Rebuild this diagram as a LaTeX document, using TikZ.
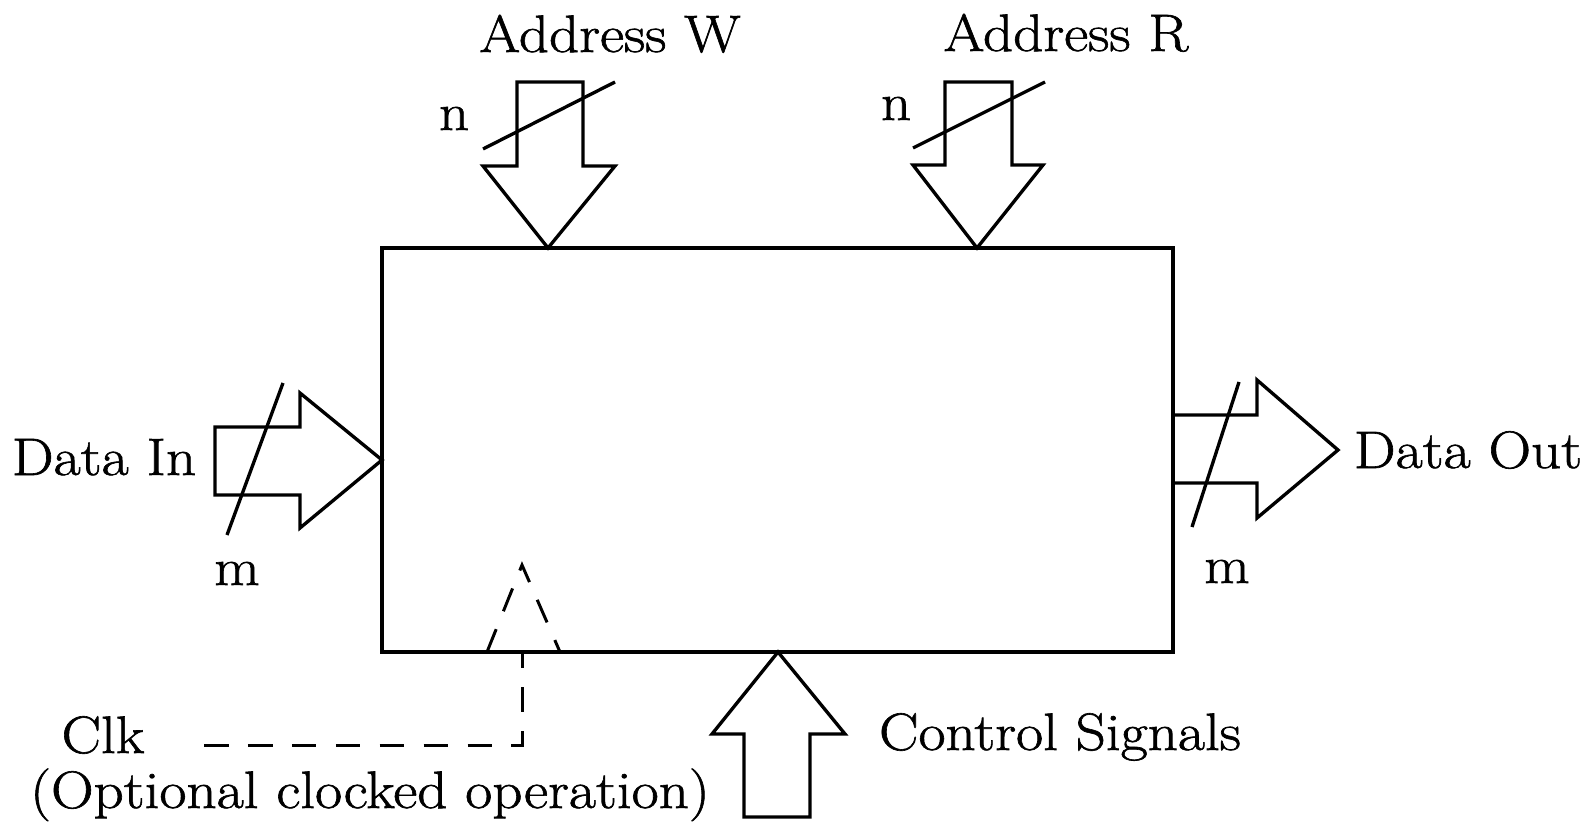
\documentclass[tikz,border=0pt]{standalone}
\usepackage{fontspec}
\setmainfont{Latin Modern Roman}[FakeStretch=1.12, FakeBold=1.2]
\begin{document}
\begin{tikzpicture}[x=0.02cm,y=-0.02cm,
  line/.style={line width=1.9pt, line join=miter},
  dashline/.style={line width=1.7pt, dash pattern=on 14pt off 11pt},
  lbl/.style={anchor=base, inner sep=0pt, font=\fontsize{30}{33}\selectfont}]
\useasboundingbox (0,0) rectangle (1591,824);
% main box
\draw[line] (382,248) rectangle (1173,652);
% Address W arrow
\draw[line] (517,82) -- (583,82) -- (583,166) -- (615,166) -- (548,248) -- (483,166) -- (517,166) -- cycle;
\draw[line] (483,149) -- (615,82);
% Address R arrow
\draw[line] (945,82) -- (1012,82) -- (1012,165) -- (1043,165) -- (977,248) -- (913,165) -- (945,165) -- cycle;
\draw[line] (913,148) -- (1045,82);
% Data In arrow
\draw[line] (215,427) -- (300,427) -- (300,393) -- (382,460) -- (300,528) -- (300,495) -- (215,495) -- cycle;
\draw[line] (227,535) -- (283,383);
% Data Out arrow
\draw[line] (1173,415) -- (1257,415) -- (1257,380) -- (1338,450) -- (1257,518) -- (1257,483) -- (1173,483);
\draw[line] (1192,527) -- (1239,382);
% Control Signals arrow
\draw[line] (744,817) -- (744,734) -- (712,734) -- (778,652) -- (845,734) -- (810,734) -- (810,817) -- cycle;
% Clock (dashed)
\draw[dashline] (487,652) -- (522,565) -- (560,652);
\draw[dashline] (204,745) -- (522,745) -- (522,652);
% labels
\node[lbl] (aw) at (610,52) {Address W};
\node[lbl] (ar) at (1066,51) {Address R};
\node[lbl] (nw) at (454,130) {n};
\node[lbl] (nr) at (896,120) {n};
\node[lbl] (din) at (104,475) {Data In};
\node[lbl] (mi) at (237,585) {m};
\node[lbl] (dout) at (1468,468) {Data Out};
\node[lbl] (mo) at (1227,583) {m};
\node[lbl] (clk) at (103,753) {Clk};
\node[lbl] (opt) at (370,808) {(Optional clocked operation)};
\node[lbl] (ctl) at (1060,750) {Control Signals};
\end{tikzpicture}
\end{document}
